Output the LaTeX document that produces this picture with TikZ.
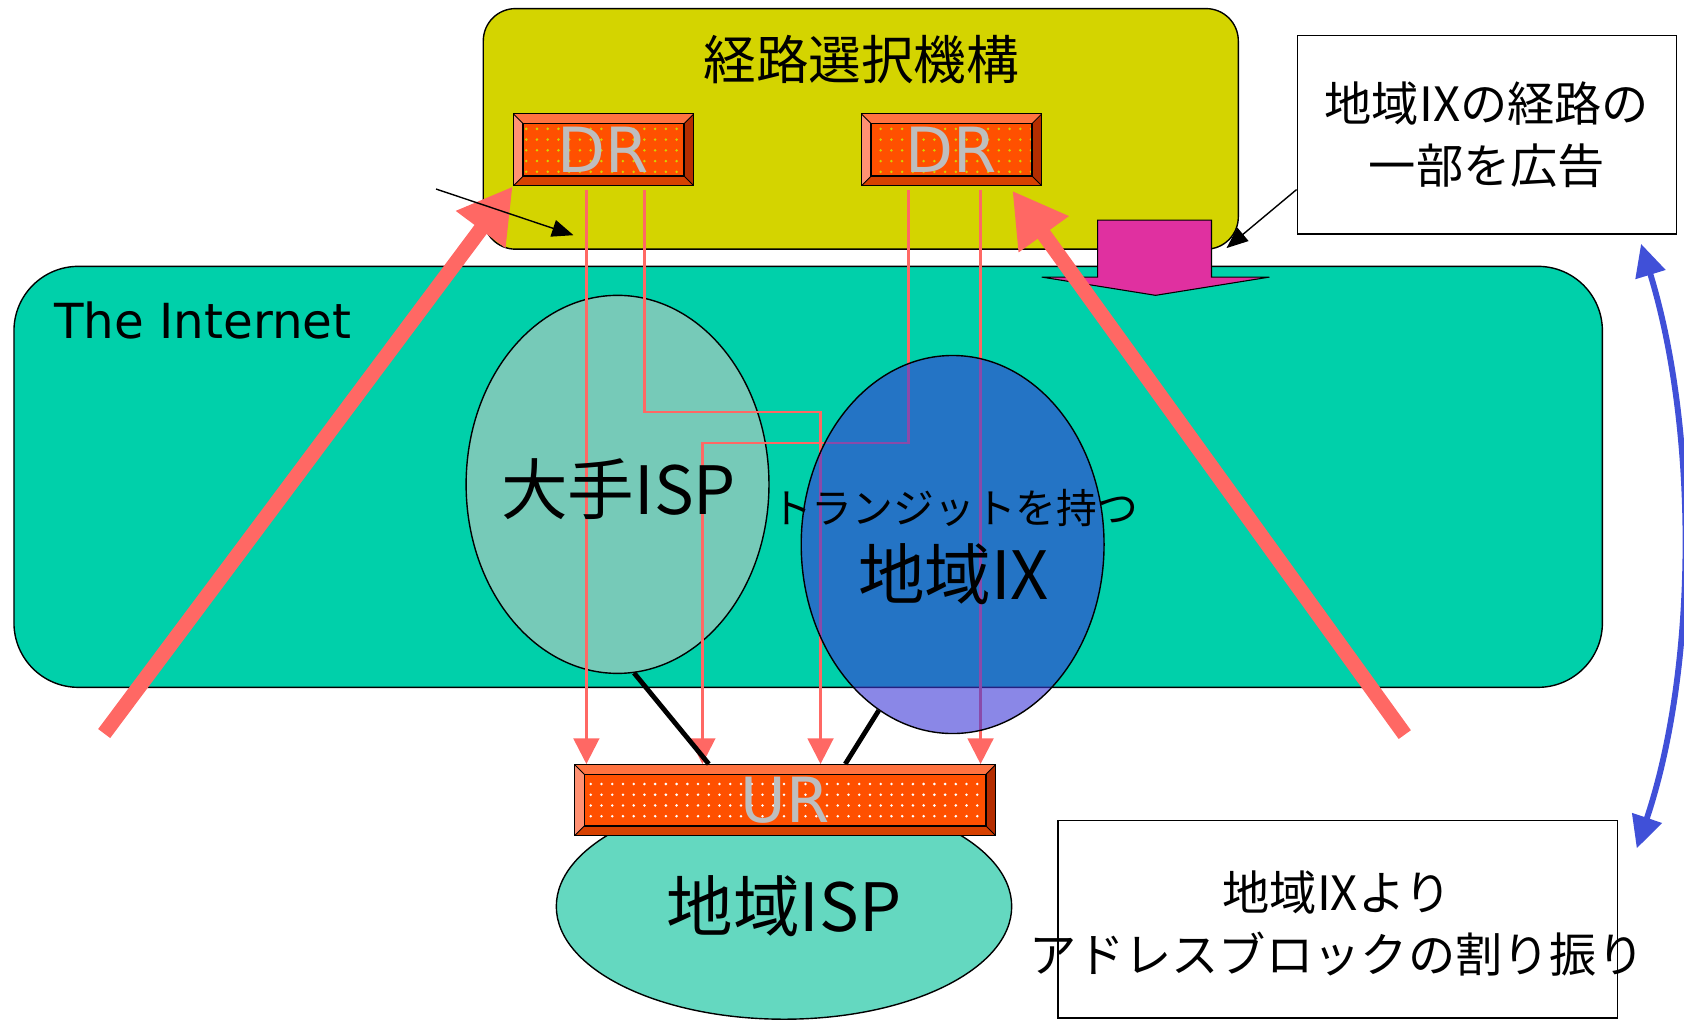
\documentclass[tikz,border=0pt]{standalone}
\usepackage{fontspec}
\setmainfont{DejaVu Sans}
\newfontfamily\jpfont{Noto Sans CJK JP}
\usepackage{tikz}
\usetikzlibrary{shapes.geometric, arrows.meta, positioning, calc, patterns.meta}

\definecolor{selc}{RGB}{212,212,0}
\definecolor{netc}{RGB}{0,208,170}
\definecolor{majorc}{RGB}{118,202,184}
\definecolor{regixc}{RGB}{60,55,215}
\definecolor{regispc}{RGB}{100,216,192}
\definecolor{rfacec}{RGB}{255,80,0}
\definecolor{rtopc}{RGB}{255,115,65}
\definecolor{rleftc}{RGB}{255,145,115}
\definecolor{rrightc}{RGB}{180,45,0}
\definecolor{rbotc}{RGB}{215,65,0}
\definecolor{rtextc}{RGB}{190,190,190}
\definecolor{routec}{RGB}{255,104,100}
\definecolor{advc}{RGB}{224,48,160}
\definecolor{allocc}{RGB}{64,80,216}

\newcommand{\pbb}{path picture bounding box}

\begin{document}
\begin{tikzpicture}[x=1pt, y=-1pt,
    router/.style={rectangle, draw=black, line width=1.2pt, fill=rfacec, inner sep=0pt,
        text=rtextc, font=\fontsize{58}{58}\selectfont,
        path picture={
            \fill[rtopc] (\pbb.north west) -- (\pbb.north east) -- ([shift={(-9pt,-9pt)}]\pbb.north east) -- ([shift={(9pt,-9pt)}]\pbb.north west) -- cycle;
            \fill[rbotc] (\pbb.south west) -- (\pbb.south east) -- ([shift={(-9pt,9pt)}]\pbb.south east) -- ([shift={(9pt,9pt)}]\pbb.south west) -- cycle;
            \fill[rleftc] (\pbb.north west) -- (\pbb.south west) -- ([shift={(9pt,9pt)}]\pbb.south west) -- ([shift={(9pt,-9pt)}]\pbb.north west) -- cycle;
            \fill[rrightc] (\pbb.north east) -- (\pbb.south east) -- ([shift={(-9pt,9pt)}]\pbb.south east) -- ([shift={(-9pt,-9pt)}]\pbb.north east) -- cycle;
            \path[pattern={Dots[distance=10pt, radius=1.3pt]}, pattern color=#1] ([shift={(9pt,-9pt)}]\pbb.north west) rectangle ([shift={(-9pt,9pt)}]\pbb.south east);
            \draw[line width=1.2pt] ([shift={(9pt,-9pt)}]\pbb.north west) rectangle ([shift={(-9pt,9pt)}]\pbb.south east);
            \draw[line width=0.8pt] (\pbb.north west) -- ++(9pt,-9pt) (\pbb.north east) -- ++(-9pt,-9pt)
                (\pbb.south west) -- ++(9pt,9pt) (\pbb.south east) -- ++(-9pt,9pt);
        }},
    region/.style={rectangle, draw, line width=1.3pt},
    isp/.style={ellipse, draw, line width=1.3pt, inner sep=0pt, minimum width=282pt, minimum height=352pt},
    bigtext/.style={font=\jpfont\fontsize{62}{62}\selectfont},
    calltext/.style={align=center, font=\jpfont\fontsize{44}{57}\selectfont},
    notebox/.style={calltext, rectangle, draw, line width=1.5pt, fill=white},
    feed/.style={draw=routec, line width=2.5pt, shorten <=3pt, -{Triangle[length=24pt, width=24pt]}},
    link/.style={line width=4.5pt},
    bigarrow/.style={draw=routec, line width=14pt, -{Triangle[length=50pt, width=54pt]}},
    advarrow/.style={draw=black, line width=1pt, fill=advc},
    pointer/.style={line width=1.3pt, -{Triangle[length=20pt, width=16pt]}},
    allocarrow/.style={draw=allocc, line width=5.5pt, {Triangle[length=30pt, width=28pt]}-{Triangle[length=30pt, width=28pt]}}
]
    \useasboundingbox (0,0) rectangle (1568,950);

    % The Internet and the route selector
    \node[region, rounded corners=60pt, fill=netc, minimum width=1479pt, minimum height=392pt] (internet) at (752.5,444) {};
    \node[anchor=west, font=\fontsize{45}{45}\selectfont] (nettitle) at (47,298) {The Internet};
    \node[region, rounded corners=30pt, fill=selc, minimum width=703pt, minimum height=224pt] (selector) at (801.5,120) {};
    \node[font=\jpfont\fontsize{49}{49}\selectfont] (seltitle) at (802,55) {経路選択機構};

    % ISPs
    \node[isp, fill=majorc] (major) at (575,451) {};
    \node[isp, bigtext, fill=regispc, minimum width=424pt, minimum height=210pt] (regisp) at (730,844) {地域ISP};

    % Routers
    \node[router=selc, minimum width=168pt, minimum height=67pt] (dr1) at (562,139.5) {DR};
    \node[router=selc, minimum width=168pt, minimum height=67pt] (dr2) at (886,139.5) {DR};
    \node[router=white, minimum width=392pt, minimum height=66pt] (ur) at (731,745) {UR};

    % Routes from DR to UR
    \draw[feed] ([xshift=-16pt]dr1.south) -- ([xshift=-185pt]ur.north);
    \draw[feed] ([xshift=38pt]dr1.south) -- ++(0,210) -| ([xshift=33pt]ur.north);
    \draw[feed] ([xshift=-40pt]dr2.south) -- ++(0,239) -| ([xshift=-77pt]ur.north);
    \draw[feed] ([xshift=27pt]dr2.south) -- ([xshift=182pt]ur.north);

    % Regional IX
    \node[isp, fill=regixc, fill opacity=0.6] (regix) at (887,507) {};
    \node[bigtext] (majortext) at (576,455) {大手ISP};
    \node[font=\jpfont\fontsize{38}{38}\selectfont] (transit) at (889,473) {トランジットを持つ};
    \node[bigtext] (regixtext) at (888,535) {地域IX};

    % Links to UR
    \draw[link] (major.-85) -- ([xshift=-71pt]ur.north);
    \draw[link] (regix.-114) -- ([xshift=56pt]ur.north);

    % Advertisement
    \draw[advarrow] (1022,205) -- (1128,205) -- (1128,258) -- (1182,258) -- (1076,275) -- (970,258) -- (1022,258) -- cycle;

    % Routes into the selector
    \coordinate (lfoot) at (97,683);
    \coordinate (rfoot) at (1308,684);
    \draw[bigarrow] (lfoot) -- (dr1.south west);
    \draw[bigarrow] (rfoot) -- ([xshift=-28pt,yshift=-4pt]dr2.south east);

    % Notes
    \node[notebox, minimum width=353pt, minimum height=185pt] (advnote) at (1384.5,125.5) {地域IXの経路の\\一部を広告};
    \coordinate (advtip) at (1142,231);
    \draw[pointer] ([yshift=-51pt]advnote.west) -- (advtip);

    \node[notebox, minimum width=521pt, minimum height=184pt] (allocnote) at (1245.5,856) {};
    \node[calltext] (alloctext) at (1245,860) {地域IXより\\アドレスブロックの割り振り};

    \coordinate (alloctop) at (1528,227);
    \coordinate (allocbot) at (1524,790);
    \draw[allocarrow] (alloctop) .. controls (1581,400) and (1581,620) .. (allocbot);

    \coordinate (hintstart) at (406,176);
    \coordinate (hinttip) at (534,219);
    \draw[pointer] (hintstart) -- (hinttip);
\end{tikzpicture}
\end{document}
